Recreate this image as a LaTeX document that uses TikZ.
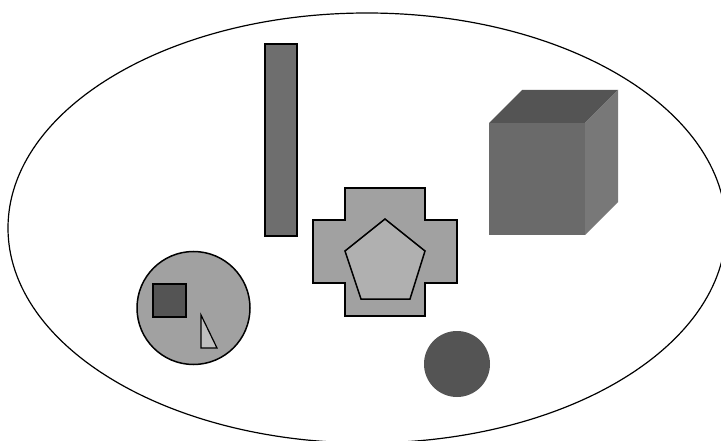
\documentclass[tikz,border=0pt]{standalone}
\usetikzlibrary{shapes.geometric}
\definecolor{gdark}{gray}{0.33}
\definecolor{gmid}{gray}{0.43}
\definecolor{gcube}{gray}{0.415}
\definecolor{gside}{gray}{0.47}
\definecolor{glight}{gray}{0.63}
\definecolor{gpale}{gray}{0.69}
\definecolor{gtri}{gray}{0.75}
\tikzset{
  outl/.style={draw=black, line width=1.5pt, line join=miter},
  thinl/.style={draw=black, line width=1.2pt}
}
\begin{document}
\begin{tikzpicture}[x=1pt,y=-1pt]
\useasboundingbox (0,0) rectangle (721,441);
\fill[white] (0,0) rectangle (721,441);
% big ellipse
\draw[thinl] (367,228) ellipse [x radius=359, y radius=215];
% tall rectangle
\draw[outl, fill=gmid] (265,44) rectangle (297,236);
% cube
\fill[gcube] (489,123) rectangle (585,235);
\fill[gdark] (489,123) -- (522,90) -- (618,90) -- (585,123) -- cycle;
\fill[gside] (585,123) -- (618,90) -- (618,202) -- (585,235) -- cycle;
% cross
\draw[outl, fill=glight] (345,188) -- (425,188) -- (425,220) -- (457,220) -- (457,283) -- (425,283) -- (425,316) -- (345,316) -- (345,283) -- (313,283) -- (313,220) -- (345,220) -- cycle;
% pentagon
\draw[outl, fill=gpale] (385,219) -- (425,251) -- (410,299) -- (361,299) -- (345,251) -- cycle;
% circle with square and triangle
\draw[outl, fill=glight] (193.5,308) circle [radius=56.5];
\draw[outl, fill=gdark] (153,284) rectangle (186,317);
\draw[thinl, fill=gtri] (201,315) -- (201,348) -- (217,348) -- cycle;
% small dark circle
\fill[gdark] (457,364) circle [radius=33];
\end{tikzpicture}
\end{document}
